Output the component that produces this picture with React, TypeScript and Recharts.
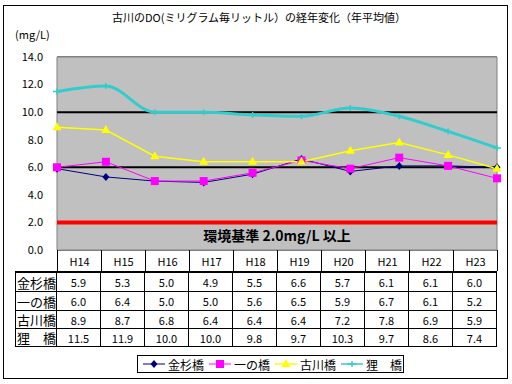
import React from 'react';
import { CartesianGrid, Line, LineChart, ReferenceArea, ReferenceLine, XAxis, YAxis } from 'recharts';

const years = ['H14', 'H15', 'H16', 'H17', 'H18', 'H19', 'H20', 'H21', 'H22', 'H23'];
const kanasugi = [5.9, 5.3, 5.0, 4.9, 5.5, 6.6, 5.7, 6.1, 6.1, 6.0];
const ichinohashi = [6.0, 6.4, 5.0, 5.0, 5.6, 6.5, 5.9, 6.7, 6.1, 5.2];
const furukawa = [8.9, 8.7, 6.8, 6.4, 6.4, 6.4, 7.2, 7.8, 6.9, 5.9];
const tanuki = [11.5, 11.9, 10.0, 10.0, 9.8, 9.7, 10.3, 9.7, 8.6, 7.4];
const yTicks = [0, 2, 4, 6, 8, 10, 12, 14];

const FONT = '"Noto Sans CJK JP", "Noto Sans", sans-serif';

const series = [
  { key: 'kanasugi', name: '金杉橋', values: kanasugi, color: '#000080', width: 1, shape: 'diamond' },
  { key: 'ichinohashi', name: '一の橋', values: ichinohashi, color: '#FF00FF', width: 1, shape: 'square' },
  { key: 'furukawa', name: '古川橋', values: furukawa, color: '#FFFF00', width: 1.5, shape: 'triangle' },
  { key: 'tanuki', name: '狸　橋', values: tanuki, color: '#33CCCC', width: 3, shape: 'dash' },
];

const data = years.map((y, i) => ({
  year: y,
  kanasugi: kanasugi[i],
  ichinohashi: ichinohashi[i],
  furukawa: furukawa[i],
  tanuki: tanuki[i],
}));

function Marker({ shape, color, cx, cy }: any) {
  if (shape === 'diamond')
    return <path d={`M${cx},${cy - 4}L${cx + 3.5},${cy}L${cx},${cy + 4}L${cx - 3.5},${cy}Z`} fill={color} />;
  if (shape === 'square') return <rect x={cx - 4} y={cy - 4} width={8} height={8} fill={color} />;
  if (shape === 'triangle')
    return <path d={`M${cx},${cy - 5}L${cx + 4.5},${cy + 3}L${cx - 4.5},${cy + 3}Z`} fill={color} />;
  return <path d={`M${cx - 4},${cy}H${cx + 4}M${cx},${cy - 3}V${cy + 3}`} stroke={color} strokeWidth={1.5} />;
}

const makeDot = (shape: string, color: string) => (p: any) =>
  <Marker key={`${shape}-${p.index}`} shape={shape} color={color} cx={p.cx} cy={p.cy} />;

const cellBase: React.CSSProperties = {
  boxSizing: 'border-box', display: 'flex', alignItems: 'center', justifyContent: 'center',
  borderRight: '1px solid #000', fontSize: 11, width: 44,
};

export default function App() {
  const rowH = [21, 19, 19, 18, 18];
  return (
    <div style={{ position: 'fixed', left: 0, top: 0, width: 512, height: 384, background: '#fff', fontFamily: FONT, color: '#000' }}>
      <div style={{ position: 'absolute', left: 3, top: 5, width: 503, height: 372, border: '1px solid #000' }} />
      <div style={{ position: 'absolute', left: 112, top: 9, fontSize: 11, whiteSpace: 'nowrap' }}>
        古川のDO(ミリグラム毎リットル）の経年変化（年平均値）
      </div>
      <div style={{ position: 'absolute', left: 15, top: 26, fontSize: 11 }}>(mg/L)</div>
      <div style={{ position: 'absolute', left: 0, top: 0 }}>
        <LineChart width={512} height={384} data={data} margin={{ top: 57, right: 15, left: 7, bottom: 134 }}>
          <ReferenceArea y1={0} y2={14} fill="#C0C0C0" fillOpacity={1} stroke="#808080" strokeWidth={1} />
          <CartesianGrid vertical={false} stroke="#000" strokeWidth={1} />
          <ReferenceLine y={6} stroke="#000" strokeWidth={2} />
          <ReferenceLine y={10} stroke="#000" strokeWidth={2} />
          <XAxis dataKey="year" hide />
          <YAxis
            domain={[0, 14]} ticks={yTicks} width={50} tickSize={0} tickMargin={14}
            axisLine={false} tickLine={false}
            tick={{ fontSize: 11, fill: '#000', fontFamily: FONT }}
            tickFormatter={(v: number) => v.toFixed(1)}
          />
          <ReferenceLine
            y={2} stroke="#FF0000" strokeWidth={4}
            label={(p: any) => (
              <text x={p.viewBox.x + p.viewBox.width / 2} y={p.viewBox.y + 19} textAnchor="middle"
                fontSize={14} fontWeight="bold" fill="#000" fontFamily={FONT}>
                環境基準 2.0mg/L 以上
              </text>
            )}
          />
          {series.map((s) => (
            <Line
              key={s.key} dataKey={s.key} name={s.name} stroke={s.color} strokeWidth={s.width}
              type={s.key === 'tanuki' ? 'monotone' : 'linear'}
              dot={makeDot(s.shape, s.color)} activeDot={false} isAnimationActive={false}
            />
          ))}
        </LineChart>
      </div>

      {/* data table */}
      <div style={{ position: 'absolute', left: 15, top: 250 }}>
        <div style={{ display: 'flex', height: rowH[0] }}>
          <div style={{ width: 42 }} />
          <div style={{ display: 'flex', borderLeft: '1px solid #000' }}>
            {years.map((y) => (
              <div key={y} style={{ ...cellBase }}>{y}</div>
            ))}
          </div>
        </div>
        <div style={{ borderTop: '2px solid #000', borderLeft: '1px solid #000', width: 482, boxSizing: 'border-box' }}>
          {series.map((s, r) => (
            <div key={s.key} style={{ display: 'flex', height: rowH[r + 1], borderBottom: '1px solid #000', boxSizing: 'border-box' }}>
              <div style={{ ...cellBase, width: 41, justifyContent: 'flex-start', paddingLeft: 1, fontSize: 13, whiteSpace: 'nowrap' }}>{s.name}</div>
              {s.values.map((v, i) => (
                <div key={i} style={{ ...cellBase }}>{v.toFixed(1)}</div>
              ))}
            </div>
          ))}
        </div>
      </div>

      {/* legend */}
      <div style={{ position: 'absolute', left: 137, top: 355, width: 267, height: 18, border: '1px solid #000', boxSizing: 'border-box', display: 'flex', alignItems: 'center', paddingLeft: 5, fontSize: 12, whiteSpace: 'nowrap' }}>
        {series.map((s) => (
          <div key={s.key} style={{ display: 'flex', alignItems: 'center', marginRight: 5, flexShrink: 0 }}>
            <svg width={22} height={10} style={{ display: 'block' }}>
              <line x1={0} y1={5} x2={22} y2={5} stroke={s.color} strokeWidth={s.key === 'tanuki' ? 1.5 : s.width} />
              <Marker shape={s.shape} color={s.color} cx={11} cy={5} />
            </svg>
            <span style={{ marginLeft: 3 }}>{s.name}</span>
          </div>
        ))}
      </div>
    </div>
  );
}
